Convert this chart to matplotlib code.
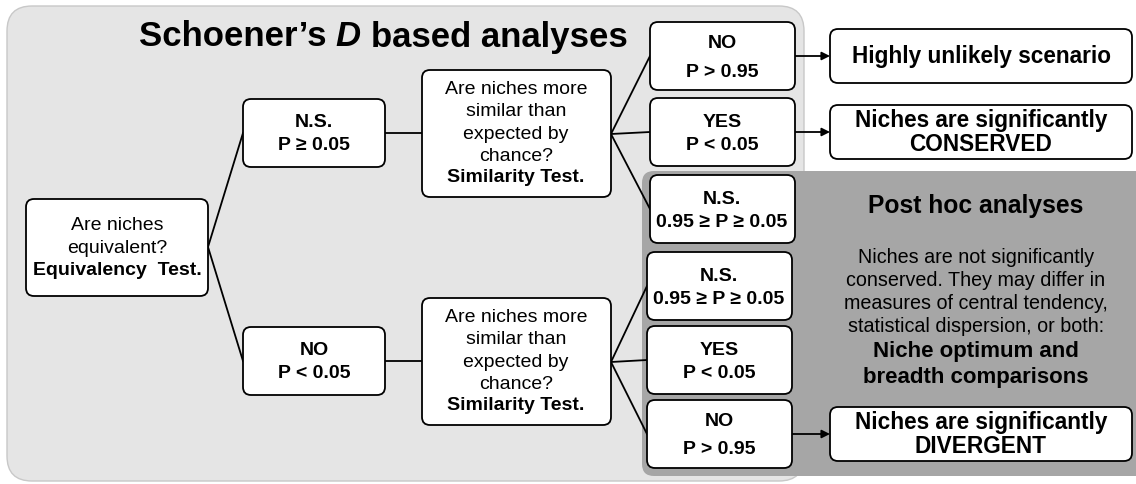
#!/usr/bin/env python3
"""
Flow chart of Schoener's D based niche analyses
"""
import matplotlib
matplotlib.use("Agg")
import matplotlib.pyplot as plt
from matplotlib.patches import FancyBboxPatch
from matplotlib import font_manager

# Text content
title_parts = ["Schoener\u2019s", "D", "based analyses"]
equiv_lines = ["Are niches", "equivalent?"]
equiv_bold = "Equivalency  Test."
sim_lines = ["Are niches more", "similar than", "expected by", "chance?"]
sim_bold = "Similarity Test."
first_results = [["N.S.", "P \u2265 0.05"], ["NO", "P < 0.05"]]
second_results = [["NO", "P > 0.95"], ["YES", "P < 0.05"], ["N.S.", "0.95 \u2265 P \u2265 0.05"]]
second_results_low = [["N.S.", "0.95 \u2265 P \u2265 0.05"], ["YES", "P < 0.05"], ["NO", "P > 0.95"]]
outcomes = [["Highly unlikely scenario"],
            ["Niches are significantly", "CONSERVED"],
            ["Niches are significantly", "DIVERGENT"]]
posthoc_title = "Post hoc analyses"
posthoc_body = ["Niches are not significantly", "conserved. They may differ in",
                "measures of central tendency,", "statistical dispersion, or both:"]
posthoc_bold = ["Niche optimum and", "breadth comparisons"]

names = {f.name for f in font_manager.fontManager.ttflist}
FAM = ["Liberation Sans", "DejaVu Sans"]
FAM = [f for f in FAM if f in names] or ["DejaVu Sans"]
plt.rcParams['font.family'] = FAM

W, H = 1136, 485
fig = plt.figure(figsize=(W / 100, H / 100), dpi=100)
ax = fig.add_axes([0, 0, 1, 1])
ax.set_xlim(0, W)
ax.set_ylim(H, 0)
ax.axis("off")


def rbox(x0, y0, x1, y1, r=8, fc="white", ec="black", lw=1.3, z=3):
    p = FancyBboxPatch((x0, y0), x1 - x0, y1 - y0,
                       boxstyle="round,pad=0,rounding_size=%g" % r,
                       fc=fc, ec=ec, lw=lw, zorder=z)
    ax.add_patch(p)


def lines_text(cx, cy, lines, size, weight="bold", gap=23):
    n = len(lines)
    for i, s in enumerate(lines):
        y = cy + (i - (n - 1) / 2) * gap
        ax.text(cx, y, s, ha="center", va="center", fontsize=size,
                fontweight=weight, zorder=5)


def seg(p, q, arrow=False):
    if arrow:
        ax.annotate("", xy=q, xytext=p, zorder=2,
                    arrowprops=dict(arrowstyle="-|>", lw=1.3, color="black",
                                    mutation_scale=12, shrinkA=0, shrinkB=0))
    else:
        ax.plot([p[0], q[0]], [p[1], q[1]], color="black", lw=1.3, zorder=2)


# Background panels
rbox(7, 7, 804, 482, r=25, fc="#e5e5e5", ec="#c8c8c8", lw=1.0, z=0)
rbox(642, 172, 1160, 477, r=12, fc="#a6a6a6", ec="none", lw=0, z=1)

# Title, built from pieces so that D can be italic
renderer = fig.canvas.get_renderer()
tsize = 25
styles = ["normal", "italic", "normal"]
pieces = []
for s, st in zip(title_parts, styles):
    t = ax.text(0, 37, s, ha="left", va="center", fontsize=tsize,
                fontweight="bold", fontstyle=st, zorder=5)
    pieces.append(t)
space = 0.28 * tsize * 100 / 72
widths = [t.get_window_extent(renderer).width for t in pieces]
total = sum(widths) + space * (len(widths) - 1)
x = 383 - total / 2
for t, w in zip(pieces, widths):
    t.set_x(x)
    x += w + space

# Equivalency box
rbox(26, 200, 208, 297)
lines_text(117, 237, equiv_lines, 14, weight="normal")
ax.text(117, 271, equiv_bold, ha="center", va="center", fontsize=14,
        fontweight="bold", zorder=5)

# First level results
first_y = [134, 362]
for res, cy in zip(first_results, first_y):
    rbox(243, cy - 34, 385, cy + 34)
    lines_text(314, cy, res, 14)
    seg((208, 248), (243, cy))
    seg((385, cy), (422, cy))

# Similarity boxes
for cy in first_y:
    rbox(422, cy - 63, 611, cy + 64)
    lines_text(516, cy - 11, sim_lines, 14, weight="normal", gap=22.5)
    ax.text(516, cy + 44, sim_bold, ha="center", va="center", fontsize=14,
            fontweight="bold", zorder=5)

# Second level results
top_y = [57, 133, 210]
for res, cy in zip(second_results, top_y):
    rbox(650, cy - 34, 795, cy + 34)
    lines_text(722, cy + 1, res, 14, gap=29 if res[0] == "NO" else 22.5)
    seg((611, 135), (650, cy))
low_y = [287, 361, 435]
for res, cy in zip(second_results_low, low_y):
    rbox(647, cy - 34, 792, cy + 34)
    lines_text(719, cy + 1, res, 14, gap=28 if res[0] == "NO" else 22.5)
    seg((611, 363), (647, cy))

# Outcomes
out_y = [57, 133, 435]
out_x = [795, 795, 792]
for res, cy, x0 in zip(outcomes, out_y, out_x):
    rbox(830, cy - 27, 1132, cy + 27)
    lines_text(981, cy, res, 16.3, gap=24)
    seg((x0, cy), (830, cy), arrow=True)

# Post hoc panel text
ax.text(976, 206, posthoc_title, ha="center", va="center", fontsize=17.7,
        fontweight="bold", zorder=5)
lines_text(976, 292, posthoc_body, 14.2, weight="normal", gap=23.3)
lines_text(976, 365, posthoc_bold, 16, gap=26)

fig.savefig("out.png", dpi=100)
